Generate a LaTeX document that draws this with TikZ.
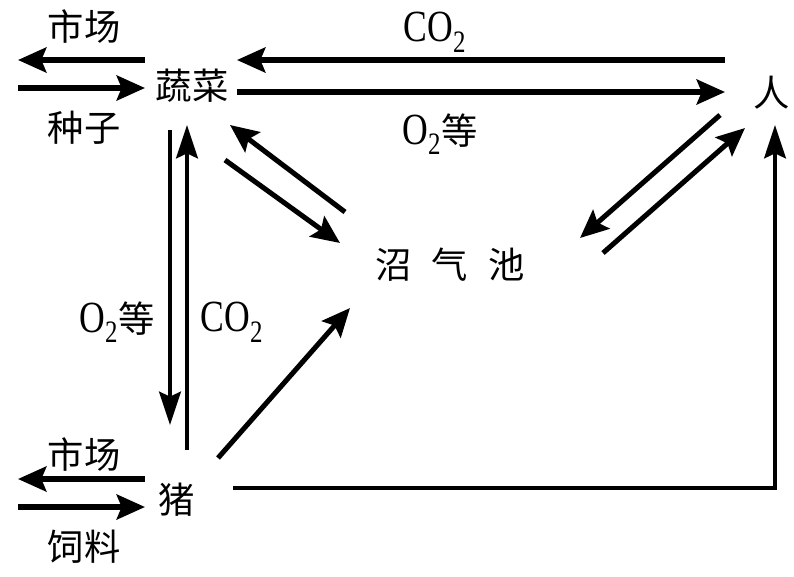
\documentclass[tikz,border=0pt]{standalone}
\usepackage{fontspec}
\setmainfont{Liberation Serif}
\newfontfamily\cjk{Noto Sans CJK SC}
\newfontfamily\gasfont[FakeStretch=0.8]{Liberation Serif}
\usetikzlibrary{arrows.meta,calc}

\begin{document}
\begin{tikzpicture}[
		x=0.03cm, y=-0.03cm,
		word/.style={inner sep=0pt, font=\cjk\fontsize{31}{34}\selectfont},
		gas/.style={inner sep=0pt, font=\gasfont\fontsize{38}{40}\selectfont},
		arrow/.style={line width=4.3pt, -{Stealth[length=8.5mm, width=7.5mm, inset=1.5mm]}},
		thin arrow/.style={line width=3.4pt, -{Stealth[length=10mm, width=6.5mm, inset=1.5mm]}}
		]
		\useasboundingbox (0,0) rectangle (794,576);
		
		\node (veg) at (192,86) [word] {蔬菜};
		\node (person) at (772,93) [word] {人};
		\node (pool) at (450,265) [word] {沼\hspace{0.55em}气\hspace{0.55em}池};
		\node (pig) at (177,500) [word] {猪};
		
		\node (market1) at (84,27) [word] {市场};
		\node (seed) at (84,128) [word] {种子};
		\node (market2) at (84,455) [word] {市场};
		\node (feed) at (84,547) [word] {饲料};
		
		\node (co2top) at (435,32) [gas] {CO\textsubscript{2}};
		\node (o2top) at (440,134) [gas] {O\textsubscript{2}{\cjk\fontsize{31}{34}\selectfont 等}};
		\node (o2left) at (117,322) [gas] {O\textsubscript{2}{\cjk\fontsize{31}{34}\selectfont 等}};
		\node (co2left) at (232,322) [gas] {CO\textsubscript{2}};
		
		\coordinate (out1) at (18,60);
		\coordinate (in1) at (18,88);
		\coordinate (out2) at (18,479);
		\coordinate (in2) at (18,507);
		
		% market and seed
		\draw [arrow] ($(veg)+(-47,-26)$) -- (out1);
		\draw [arrow] (in1) -- ($(veg)+(-47,2)$);
		\draw [arrow] ($(pig)+(-32,-21)$) -- (out2);
		\draw [arrow] (in2) -- ($(pig)+(-32,7)$);
		
		% vegetables and person
		\draw [arrow] ($(person)+(-47,-33)$) -- ($(veg)+(45,-26)$);
		\draw [arrow] ($(veg)+(45,6)$) -- ($(person)+(-47,-1)$);
		
		% vegetables and pig
		\draw [thin arrow] ($(veg)+(-22,44)$) -- ($(pig)+(-7,-75)$);
		\draw [thin arrow] ($(pig)+(10,-50)$) -- ($(veg)+(-5,39)$);
		
		% biogas pool
		\draw [arrow] ($(veg)+(33,74)$) -- ($(pool)+(-110,-22)$);
		\draw [arrow] ($(pool)+(-105,-53)$) -- ($(veg)+(38,39)$);
		\draw [arrow] ($(person)+(-52,22)$) -- ($(pool)+(130,-27)$);
		\draw [arrow] ($(pool)+(153,-12)$) -- ($(person)+(-27,35)$);
		\draw [arrow] ($(pig)+(41,-42)$) -- ($(pool)+(-100,43)$);
		
		% pig to person
		\draw [thin arrow] ($(pig)+(56,-12)$) -| ($(person)+(3,32)$);
	\end{tikzpicture}
\end{document}
